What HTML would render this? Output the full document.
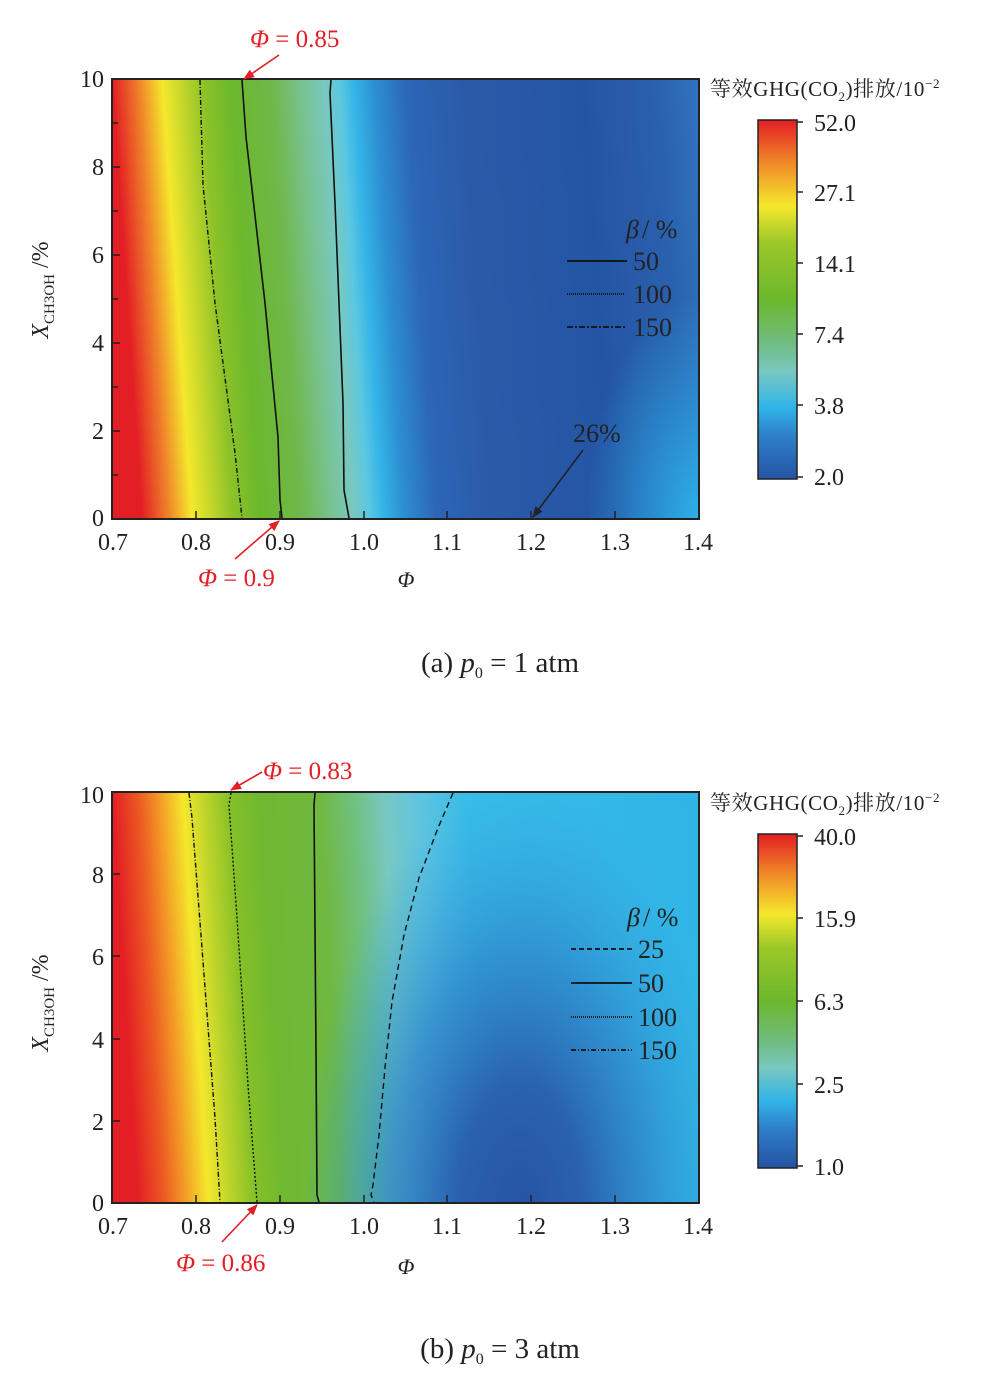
<!DOCTYPE html>
<html><head><meta charset="utf-8"><style>
html,body{margin:0;padding:0;background:#fff}
svg{display:block}
text{font-family:"Liberation Serif","Noto Serif CJK SC",serif}
</style></head><body>
<svg width="998" height="1373" viewBox="0 0 998 1373" xmlns="http://www.w3.org/2000/svg">
<defs>
<linearGradient id="ga" gradientUnits="userSpaceOnUse" x1="112" y1="79" x2="699" y2="39">
<stop offset="0" stop-color="#e31e24"/>
<stop offset="0.045" stop-color="#f0822a"/>
<stop offset="0.085" stop-color="#f5e82c"/>
<stop offset="0.115" stop-color="#c8d82a"/>
<stop offset="0.155" stop-color="#8cc228"/>
<stop offset="0.2" stop-color="#6cb82c"/>
<stop offset="0.27" stop-color="#6fb84a"/>
<stop offset="0.32" stop-color="#78c290"/>
<stop offset="0.36" stop-color="#78c8c0"/>
<stop offset="0.385" stop-color="#5cc8e0"/>
<stop offset="0.41" stop-color="#34b4e8"/>
<stop offset="0.445" stop-color="#2c8fd0"/>
<stop offset="0.5" stop-color="#2c66b6"/>
<stop offset="0.6" stop-color="#2a5aa8"/>
<stop offset="0.8" stop-color="#2455a5"/>
<stop offset="0.92" stop-color="#2a60ae"/>
<stop offset="1" stop-color="#3075c0"/>
</linearGradient>
<linearGradient id="gb" gradientUnits="userSpaceOnUse" x1="112" y1="792" x2="699" y2="755">
<stop offset="0" stop-color="#e31e24"/>
<stop offset="0.045" stop-color="#ec5a22"/>
<stop offset="0.08" stop-color="#f39a26"/>
<stop offset="0.12" stop-color="#f5e82c"/>
<stop offset="0.155" stop-color="#c0d52a"/>
<stop offset="0.2" stop-color="#84c028"/>
<stop offset="0.25" stop-color="#70b830"/>
<stop offset="0.35" stop-color="#70b840"/>
<stop offset="0.41" stop-color="#70c080"/>
<stop offset="0.46" stop-color="#78c8c0"/>
<stop offset="0.52" stop-color="#60c4e0"/>
<stop offset="0.6" stop-color="#38bce8"/>
<stop offset="1" stop-color="#30b4e6"/>
</linearGradient>
<radialGradient id="rb" gradientUnits="userSpaceOnUse" cx="520" cy="1215" r="300" gradientTransform="translate(520 1215) scale(0.72 1.45) translate(-520 -1215)">
<stop offset="0" stop-color="#2553a3"/>
<stop offset="0.3" stop-color="#2a62b0"/>
<stop offset="0.6" stop-color="#2e88cc" stop-opacity="0.8"/>
<stop offset="1" stop-color="#30a8e0" stop-opacity="0"/>
</radialGradient>
<radialGradient id="ra" gradientUnits="userSpaceOnUse" cx="699" cy="519" r="140" gradientTransform="translate(699 519) scale(0.8 1.6) translate(-699 -519)">
<stop offset="0" stop-color="#2cb4ea" stop-opacity="0.95"/>
<stop offset="1" stop-color="#2cb4ea" stop-opacity="0"/>
</radialGradient>
<linearGradient id="ca" x1="0" y1="0" x2="0" y2="1">
<stop offset="0" stop-color="#e31e24"/>
<stop offset="0.12" stop-color="#f08a28"/>
<stop offset="0.24" stop-color="#f5e82c"/>
<stop offset="0.34" stop-color="#9cc828"/>
<stop offset="0.5" stop-color="#6cb82c"/>
<stop offset="0.62" stop-color="#70bc80"/>
<stop offset="0.7" stop-color="#78c8c0"/>
<stop offset="0.8" stop-color="#30b4e8"/>
<stop offset="0.88" stop-color="#2e80c8"/>
<stop offset="1" stop-color="#2453a4"/>
</linearGradient>
<marker id="arr" viewBox="0 0 10 10" refX="9" refY="5" markerWidth="7" markerHeight="7" orient="auto"><path d="M0,1 L10,5 L0,9 z" fill="#e31e24"/></marker>
<marker id="arrk" viewBox="0 0 10 10" refX="9" refY="5" markerWidth="7" markerHeight="7" orient="auto"><path d="M0,1 L10,5 L0,9 z" fill="#222"/></marker>
</defs>

<!-- Plot A -->
<rect x="112" y="79" width="587" height="440" fill="url(#ga)"/>
<rect x="112" y="79" width="587" height="440" fill="url(#ra)"/>
<g fill="none" stroke="#111" stroke-width="1.6">
<polyline points="200,80 203,185 215,303 235,453 242,518" stroke-dasharray="5,2,1,2" stroke-width="1.4"/>
<polyline points="242,80 246,137 265,303 278,437 280,500 282,518"/>
<polyline points="331,80 330,93 335,203 343,403 344,490 349,518"/>
</g>
<rect x="112" y="79" width="587" height="440" fill="none" stroke="#222" stroke-width="2"/>
<g stroke="#222" stroke-width="1.5">
<line x1="112" y1="123" x2="118" y2="123"/><line x1="112" y1="167" x2="120" y2="167"/><line x1="112" y1="211" x2="118" y2="211"/><line x1="112" y1="255" x2="120" y2="255"/><line x1="112" y1="299" x2="118" y2="299"/><line x1="112" y1="343" x2="120" y2="343"/><line x1="112" y1="387" x2="118" y2="387"/><line x1="112" y1="431" x2="120" y2="431"/><line x1="112" y1="475" x2="118" y2="475"/>
<line x1="196" y1="519" x2="196" y2="511"/><line x1="280" y1="519" x2="280" y2="511"/><line x1="364" y1="519" x2="364" y2="511"/><line x1="447" y1="519" x2="447" y2="511"/><line x1="531" y1="519" x2="531" y2="511"/><line x1="615" y1="519" x2="615" y2="511"/>
</g>
<g font-size="24" fill="#222" text-anchor="end">
<text x="104" y="87">10</text><text x="104" y="175">8</text><text x="104" y="263">6</text><text x="104" y="351">4</text><text x="104" y="439">2</text><text x="104" y="526">0</text>
</g>
<g font-size="24" fill="#222" text-anchor="middle">
<text x="113" y="550">0.7</text><text x="196" y="550">0.8</text><text x="280" y="550">0.9</text><text x="364" y="550">1.0</text><text x="447" y="550">1.1</text><text x="531" y="550">1.2</text><text x="615" y="550">1.3</text><text x="698" y="550">1.4</text>
</g>
<text x="406" y="587" font-size="22" font-style="italic" text-anchor="middle" fill="#222">Φ</text>
<text transform="translate(48,290) rotate(-90)" font-size="24" fill="#222" text-anchor="middle"><tspan font-style="italic">X</tspan><tspan font-size="15" dy="6">CH3OH</tspan><tspan dy="-6"> /%</tspan></text>
<!-- legend A -->
<text x="626" y="238" font-size="26" font-style="italic" fill="#222">β</text><text x="642" y="238" font-size="26" fill="#222">/ %</text>
<g stroke="#111" stroke-width="1.8"><line x1="567" y1="261" x2="627" y2="261"/><line x1="567" y1="294" x2="625" y2="294" stroke-dasharray="1,1"/><line x1="567" y1="327" x2="627" y2="327" stroke-dasharray="6,2,2,2"/></g>
<g font-size="26" fill="#222"><text x="633" y="270">50</text><text x="633" y="303">100</text><text x="633" y="336">150</text></g>
<text x="573" y="442" font-size="26" fill="#222">26%</text>
<line x1="583" y1="450" x2="533" y2="517" stroke="#222" stroke-width="1.6" marker-end="url(#arrk)"/>
<!-- annotations A -->
<text x="250" y="47" font-size="25" fill="#e31e24"><tspan font-style="italic">Φ</tspan> = 0.85</text>
<line x1="279" y1="55" x2="244" y2="79" stroke="#e31e24" stroke-width="1.6" marker-end="url(#arr)"/>
<text x="198" y="586" font-size="25" fill="#e31e24"><tspan font-style="italic">Φ</tspan> = 0.9</text>
<line x1="235" y1="559" x2="279" y2="521" stroke="#e31e24" stroke-width="1.6" marker-end="url(#arr)"/>
<!-- colorbar A -->
<text x="710" y="96" font-size="21" fill="#222" letter-spacing="0.6">等效GHG(CO<tspan font-size="13" dy="5">2</tspan><tspan dy="-5">)排放/10</tspan><tspan font-size="13" dy="-8">−2</tspan></text>
<rect x="758" y="120" width="39" height="359" fill="url(#ca)" stroke="#222" stroke-width="1.5"/>
<g stroke="#222" stroke-width="1.5"><line x1="797" y1="192" x2="803" y2="192"/><line x1="797" y1="263" x2="803" y2="263"/><line x1="797" y1="334" x2="803" y2="334"/><line x1="797" y1="405" x2="803" y2="405"/><line x1="797" y1="122" x2="803" y2="122"/><line x1="797" y1="477" x2="803" y2="477"/></g>
<g font-size="24" fill="#222"><text x="814" y="131">52.0</text><text x="814" y="201">27.1</text><text x="814" y="272">14.1</text><text x="814" y="343">7.4</text><text x="814" y="414">3.8</text><text x="814" y="485">2.0</text></g>
<text x="500" y="672" font-size="29" fill="#222" text-anchor="middle">(a)  <tspan font-style="italic">p</tspan><tspan font-size="16" dy="6">0</tspan><tspan dy="-6"> = 1 atm</tspan></text>

<!-- Plot B -->
<rect x="112" y="792" width="587" height="411" fill="url(#gb)"/>
<rect x="112" y="792" width="587" height="411" fill="url(#rb)"/>
<g fill="none" stroke="#111" stroke-width="1.4">
<polyline points="189,793 192,818 215,1118 220,1202" stroke-dasharray="5,2,1,2"/>
<polyline points="231,793 229,805 237,918 248,1085 257,1202" stroke-dasharray="2,2"/>
<polyline points="315,793 314,805 316,1052 317,1195 319,1202" stroke-width="1.6"/>
<polyline points="453,793 438,828 419,878 404,935 392,1002 385,1068 379,1135 373,1185 371,1195 374,1202" stroke-dasharray="6,4"/>
</g>
<rect x="112" y="792" width="587" height="411" fill="none" stroke="#222" stroke-width="2"/>
<g stroke="#222" stroke-width="1.5">
<line x1="112" y1="874" x2="120" y2="874"/><line x1="112" y1="956" x2="120" y2="956"/><line x1="112" y1="1039" x2="120" y2="1039"/><line x1="112" y1="1121" x2="120" y2="1121"/>
<line x1="196" y1="1203" x2="196" y2="1195"/><line x1="280" y1="1203" x2="280" y2="1195"/><line x1="364" y1="1203" x2="364" y2="1195"/><line x1="447" y1="1203" x2="447" y2="1195"/><line x1="531" y1="1203" x2="531" y2="1195"/><line x1="615" y1="1203" x2="615" y2="1195"/>
</g>
<g font-size="24" fill="#222" text-anchor="end">
<text x="104" y="803">10</text><text x="104" y="883">8</text><text x="104" y="965">6</text><text x="104" y="1048">4</text><text x="104" y="1130">2</text><text x="104" y="1211">0</text>
</g>
<g font-size="24" fill="#222" text-anchor="middle">
<text x="113" y="1234">0.7</text><text x="196" y="1234">0.8</text><text x="280" y="1234">0.9</text><text x="364" y="1234">1.0</text><text x="447" y="1234">1.1</text><text x="531" y="1234">1.2</text><text x="615" y="1234">1.3</text><text x="698" y="1234">1.4</text>
</g>
<text x="406" y="1274" font-size="22" font-style="italic" text-anchor="middle" fill="#222">Φ</text>
<text transform="translate(48,1003) rotate(-90)" font-size="24" fill="#222" text-anchor="middle"><tspan font-style="italic">X</tspan><tspan font-size="15" dy="6">CH3OH</tspan><tspan dy="-6"> /%</tspan></text>
<!-- legend B -->
<text x="627" y="926" font-size="26" font-style="italic" fill="#222">β</text><text x="643" y="926" font-size="26" fill="#222">/ %</text>
<g stroke="#111" stroke-width="1.8"><line x1="571" y1="949" x2="632" y2="949" stroke-dasharray="5,3"/><line x1="571" y1="983" x2="632" y2="983"/><line x1="571" y1="1017" x2="632" y2="1017" stroke-dasharray="1,1"/><line x1="571" y1="1050" x2="632" y2="1050" stroke-dasharray="5,2,1,2"/></g>
<g font-size="26" fill="#222"><text x="638" y="958">25</text><text x="638" y="992">50</text><text x="638" y="1026">100</text><text x="638" y="1059">150</text></g>
<!-- annotations B -->
<text x="263" y="779" font-size="25" fill="#e31e24"><tspan font-style="italic">Φ</tspan> = 0.83</text>
<line x1="262" y1="772" x2="231" y2="790" stroke="#e31e24" stroke-width="1.6" marker-end="url(#arr)"/>
<text x="176" y="1271" font-size="25" fill="#e31e24"><tspan font-style="italic">Φ</tspan> = 0.86</text>
<line x1="222" y1="1242" x2="257" y2="1205" stroke="#e31e24" stroke-width="1.6" marker-end="url(#arr)"/>
<!-- colorbar B -->
<text x="710" y="810" font-size="21" fill="#222" letter-spacing="0.6">等效GHG(CO<tspan font-size="13" dy="5">2</tspan><tspan dy="-5">)排放/10</tspan><tspan font-size="13" dy="-8">−2</tspan></text>
<rect x="758" y="834" width="39" height="334" fill="url(#ca)" stroke="#222" stroke-width="1.5"/>
<g stroke="#222" stroke-width="1.5"><line x1="797" y1="836" x2="803" y2="836"/><line x1="797" y1="918" x2="803" y2="918"/><line x1="797" y1="1001" x2="803" y2="1001"/><line x1="797" y1="1084" x2="803" y2="1084"/><line x1="797" y1="1166" x2="803" y2="1166"/></g>
<g font-size="24" fill="#222"><text x="814" y="845">40.0</text><text x="814" y="927">15.9</text><text x="814" y="1010">6.3</text><text x="814" y="1093">2.5</text><text x="814" y="1175">1.0</text></g>
<text x="500" y="1358" font-size="29" fill="#222" text-anchor="middle">(b)  <tspan font-style="italic">p</tspan><tspan font-size="16" dy="6">0</tspan><tspan dy="-6"> = 3 atm</tspan></text>
</svg>
</body></html>
